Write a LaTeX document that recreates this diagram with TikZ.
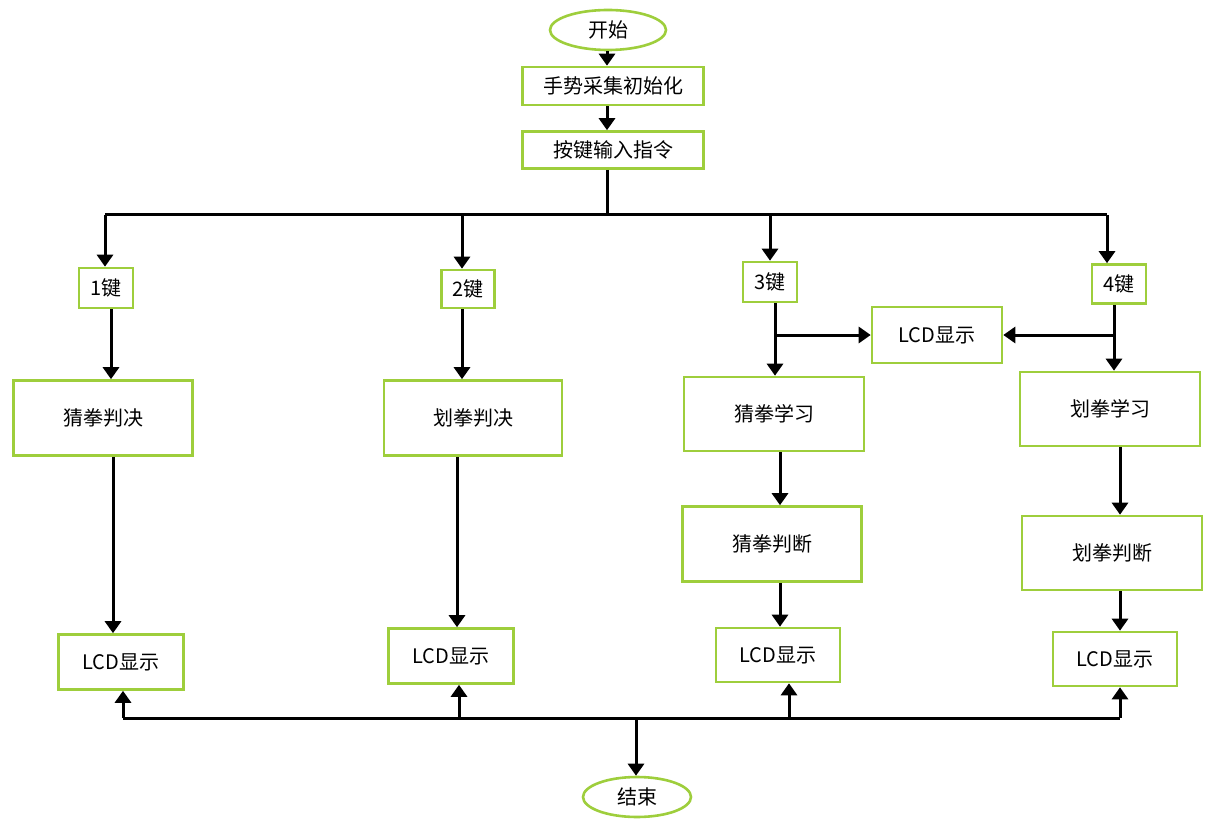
\documentclass[tikz,border=0pt]{standalone}
\usepackage{fontspec}
\setmainfont{Noto Sans CJK SC}
\usetikzlibrary{arrows.meta,shapes.geometric}
\definecolor{boxgreen}{RGB}{158,206,60}
\tikzset{
  flowbox/.style={draw=boxgreen,line width=2.6pt,fill=white,inner sep=0pt,
    font=\fontsize{20}{24}\selectfont},
  term/.style={flowbox,ellipse},
  arr/.style={line width=3pt,-{Triangle[width=16pt,length=12pt]}},
  ln/.style={line width=3pt},
}
\begin{document}
\begin{tikzpicture}[x=1pt,y=-1pt]
\useasboundingbox (0,0) rectangle (1212,826);
% nodes
\node[term,minimum width=116,minimum height=40] (start) at (608,30) {开始};
\node[flowbox,minimum width=181,minimum height=38] (init) at (613,86) {手势采集初始化};
\node[flowbox,minimum width=181,minimum height=37] (key) at (613,150) {按键输入指令};
\node[flowbox,minimum width=54,minimum height=40] (k1) at (106,288) {1键};
\node[flowbox,minimum width=53,minimum height=38] (k2) at (468,289) {2键};
\node[flowbox,minimum width=54,minimum height=40] (k3) at (770,282) {3键};
\node[flowbox,minimum width=54,minimum height=39] (k4) at (1119,284) {4键};
\node[flowbox,minimum width=130,minimum height=56] (lcdm) at (937,335) {LCD显示};
\node[flowbox,minimum width=179,minimum height=75] (d1) at (103,418) {猜拳判决};
\node[flowbox,minimum width=178,minimum height=75] (d2) at (473,418) {划拳判决};
\node[flowbox,minimum width=180,minimum height=74] (l3) at (774,414) {猜拳学习};
\node[flowbox,minimum width=180,minimum height=74] (l4) at (1110,409) {划拳学习};
\node[flowbox,minimum width=179,minimum height=75] (j3) at (772,544) {猜拳判断};
\node[flowbox,minimum width=180,minimum height=74] (j4) at (1112,553) {划拳判断};
\node[flowbox,minimum width=125,minimum height=55] (c1) at (121,662) {LCD显示};
\node[flowbox,minimum width=125,minimum height=55] (c2) at (451,656) {LCD显示};
\node[flowbox,minimum width=124,minimum height=54] (c3) at (778,655) {LCD显示};
\node[flowbox,minimum width=124,minimum height=54] (c4) at (1115,659) {LCD显示};
\node[term,minimum width=108,minimum height=40] (end) at (637,797) {结束};
% bus coordinates
\coordinate (bt) at (607,215);
\coordinate (b1) at (105,215);
\coordinate (b2) at (462,215);
\coordinate (b3) at (770,215);
\coordinate (b4) at (1107,215);
\coordinate (bb) at (636,718);
\coordinate (u1) at (123,718);
\coordinate (u2) at (459,718);
\coordinate (u3) at (789,718);
\coordinate (u4) at (1120,718);
% top
\draw[arr] (start.south -| bt) -- (init.north -| bt);
\draw[arr] (init.south -| bt) -- (key.north -| bt);
\draw[ln] (key.south -| bt) -- (bt);
\draw[ln] (b1) -- (b4);
\draw[arr] (b1) -- (b1 |- k1.north);
\draw[arr] (b2) -- (b2 |- k2.north);
\draw[arr] (b3) -- (b3 |- k3.north);
\draw[arr] (b4) -- (b4 |- k4.north);
% column 1
\draw[arr] ([xshift=5]k1.south) -- ([xshift=5]k1.south |- d1.north);
\draw[arr] ([xshift=10]d1.south) -- ([xshift=10]d1.south |- c1.north);
% column 2
\draw[arr] ([xshift=-6]k2.south) -- ([xshift=-6]k2.south |- d2.north);
\draw[arr] ([xshift=-16]d2.south) -- ([xshift=-16]d2.south |- c2.north);
% column 3
\draw[arr] ([xshift=5]k3.south) -- ([xshift=5]k3.south |- l3.north);
\draw[arr] ([xshift=5]k3.south |- lcdm.west) -- (lcdm.west);
\draw[arr] ([xshift=6]l3.south) -- ([xshift=6]l3.south |- j3.north);
\draw[arr] ([xshift=8]j3.south) -- ([xshift=8]j3.south |- c3.north);
% column 4
\draw[arr] ([xshift=-5]k4.south) -- ([xshift=-5]k4.south |- l4.north);
\draw[arr] ([xshift=-5]k4.south |- lcdm.east) -- (lcdm.east);
\draw[arr] ([xshift=10]l4.south) -- ([xshift=10]l4.south |- j4.north);
\draw[arr] ([xshift=8]j4.south) -- ([xshift=8]j4.south |- c4.north);
% bottom
\draw[ln,line join=round] (u1) -- (u4);
\draw[arr] (u1) -- (u1 |- c1.south);
\draw[arr] (u2) -- (u2 |- c2.south);
\draw[arr] (u3) -- (u3 |- c3.south);
\draw[arr] (u4) -- (u4 |- c4.south);
\draw[arr] (bb) -- (end.north -| bb);
\end{tikzpicture}
\end{document}
